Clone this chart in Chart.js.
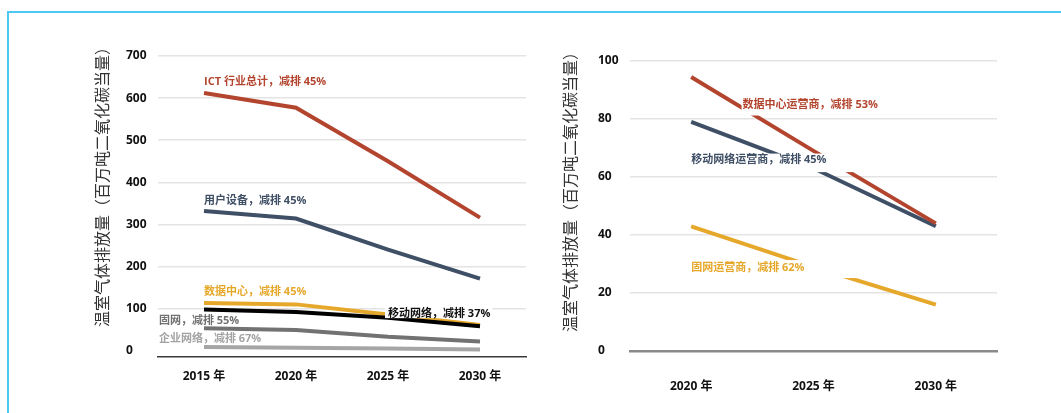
<!DOCTYPE html>
<html>
<head>
<meta charset="utf-8">
<script src="https://cdn.jsdelivr.net/npm/chart.js@4.4.1/dist/chart.umd.min.js"></script>
<style>
    html, body { margin: 0; padding: 0; background: #fff; width: 1061px; height: 413px; overflow: hidden; }
    #frame { position: absolute; left: 7px; top: 11px; width: 1100px; height: 450px; border-left: 2px solid #4cc8f2; border-top: 2px solid #4cc8f2; }
    #left { position: absolute; left: 0; top: 0; }
    #right { position: absolute; left: 540px; top: 0; }
</style>
</head>
<body>
<div id="frame"></div>
<canvas id="left" width="540" height="413"></canvas>
<canvas id="right" width="521" height="413"></canvas>
<script>
// left panel: whole ICT sector by segment
const leftYears = ['2015 年', '2020 年', '2025 年', '2030 年'];
const ictTotal = [612, 577, 450, 316];
const userDevices = [332, 314, 240, 171];
const dataCenters = [113, 110, 86, 61];
const mobileNetworks = [98, 92, 78, 58];
const fixedNetworks = [53, 49, 33, 22];
const enterpriseNetworks = [9, 7, 5, 3];
const leftTicks = [0, 100, 200, 300, 400, 500, 600, 700];

// right panel: operators
const rightYears = ['2020 年', '2025 年', '2030 年'];
const dataCenterOperators = [94.5, 69, 44];
const mobileOperators = [79, 63, 43];
const fixedOperators = [43, 29, 16];
const rightTicks = [0, 20, 40, 60, 80, 100];

const axisTitle = '温室气体排放量（百万吨二氧化碳当量）';

const RED = '#b3452f';
const BLUE = '#3f4f66';
const GOLD = '#e6a82b';

const labelFont = 'bold 11px "Open Sans", "Noto Sans CJK SC", sans-serif';
const tickFont = { family: '"Open Sans", "Noto Sans CJK SC", sans-serif', size: 12, weight: 'bold' };

// text notes next to the lines, anchored on scale values; box = [top, right, bottom, left] white backing
const notesPlugin = {
    id: 'notes',
    afterDatasetsDraw(chart, args, opts) {
        const { ctx, scales: { x, y } } = chart;
        ctx.save();
        ctx.font = labelFont;
        ctx.textBaseline = 'middle';
        ctx.textAlign = 'left';
        opts.items.forEach((note) => {
            const px = x.getPixelForValue(note.at[0]);
            const py = y.getPixelForValue(note.at[1]);
            const w = ctx.measureText(note.text).width;
            if (note.box) {
                const [t, r, b, l] = note.box;
                ctx.fillStyle = '#fff';
                ctx.fillRect(px - l, py - t, w + l + r, t + b);
            }
            ctx.fillStyle = note.color;
            ctx.fillText(note.text, px, py);
        });
        ctx.restore();
    },
};

const sideTitlePlugin = {
    id: 'sideTitle',
    afterDraw(chart, args, opts) {
        const { ctx, chartArea } = chart;
        ctx.save();
        ctx.translate(chartArea.left - opts.dx, chartArea.top + opts.dy);
        ctx.rotate(-Math.PI / 2);
        ctx.font = '16px "Noto Sans CJK SC", sans-serif';
        ctx.fillStyle = '#333';
        ctx.textAlign = 'center';
        ctx.textBaseline = 'middle';
        ctx.fillText(opts.text, 0, 0);
        ctx.restore();
    },
};

const line = (label, data, color, order) => ({
    label,
    data,
    borderColor: color,
    backgroundColor: color,
    borderWidth: 4,
    pointRadius: 0,
    tension: 0,
    fill: false,
    order,
});

const makeOptions = (cfg) => ({
    responsive: false,
    animation: false,
    layout: { padding: cfg.padding },
    scales: {
        x: {
            type: 'category',
            offset: true,
            grid: { display: false, drawTicks: false },
            border: { display: true, color: cfg.axisColor, width: cfg.axisWidth },
            ticks: { font: tickFont, color: '#111', padding: cfg.xPad, maxRotation: 0 },
            afterFit: (s) => { s.height = cfg.xHeight; },
        },
        y: {
            min: cfg.min,
            max: cfg.max,
            border: { display: false },
            grid: {
                drawTicks: false,
                lineWidth: 1.5,
                color: (c) => (c.tick && c.tick.value === 0 ? 'rgba(0,0,0,0)' : '#e4e4e4'),
            },
            ticks: { font: tickFont, color: '#111', crossAlign: 'far' },
            afterBuildTicks: (s) => { s.ticks = cfg.ticks.map((v) => ({ value: v })); },
            afterFit: (s) => { s.width = 32; },
        },
    },
    plugins: {
        legend: { display: false },
        tooltip: { enabled: false },
        notes: { items: cfg.notes },
        sideTitle: { text: axisTitle, dx: cfg.titleDx, dy: cfg.titleDy },
    },
});

new Chart(document.getElementById('left'), {
    type: 'line',
    data: {
        labels: leftYears,
        datasets: [
            line('ICT 行业总计', ictTotal, RED, 0),
            line('用户设备', userDevices, BLUE, 1),
            line('移动网络', mobileNetworks, '#000', 2),
            line('数据中心', dataCenters, GOLD, 3),
            line('固网', fixedNetworks, '#727272', 4),
            line('企业网络', enterpriseNetworks, '#a5a5a5', 5),
        ],
    },
    options: makeOptions({
        padding: { left: 126, top: 56, right: 14, bottom: 0 },
        min: -15,
        max: 700,
        ticks: leftTicks,
        axisColor: '#3a3a3a',
        axisWidth: 1.5,
        xPad: 12,
        xHeight: 56,
        titleDx: 56,
        titleDy: 127,
        notes: [
            { text: 'ICT 行业总计，减排 45%', at: [0, 638], color: RED },
            { text: '用户设备，减排 45%', at: [0, 357], color: BLUE },
            { text: '数据中心，减排 45%', at: [0, 140], color: GOLD },
            { text: '移动网络，减排 37%', at: [2, 88], color: '#111', box: [8, 2, 4.5, 3] },
            { text: '固网，减排 55%', at: [-0.49, 72], color: '#707070' },
            { text: '企业网络，减排 67%', at: [-0.49, 29], color: '#a3a3a3' },
        ],
    }),
    plugins: [notesPlugin, sideTitlePlugin],
});

new Chart(document.getElementById('right'), {
    type: 'line',
    data: {
        labels: rightYears,
        datasets: [
            line('数据中心运营商', dataCenterOperators, RED, 0),
            line('移动网络运营商', mobileOperators, BLUE, 1),
            line('固网运营商', fixedOperators, GOLD, 2),
        ],
    },
    options: makeOptions({
        padding: { left: 58, top: 61, right: 64, bottom: 0 },
        min: 0,
        max: 100,
        ticks: rightTicks,
        axisColor: '#8a8a8a',
        axisWidth: 2.5,
        xPad: 28,
        xHeight: 62,
        titleDx: 60,
        titleDy: 127,
        notes: [
            { text: '数据中心运营商，减排 53%', at: [0.42, 85], color: RED, box: [8, 4, 11, 1] },
            { text: '移动网络运营商，减排 45%', at: [0, 66], color: BLUE, box: [6, 34, 12.5, 2] },
            { text: '固网运营商，减排 62%', at: [0, 28.6], color: GOLD, box: [8, 60, 10, 2] },
        ],
    }),
    plugins: [notesPlugin, sideTitlePlugin],
});
</script>
</body>
</html>
